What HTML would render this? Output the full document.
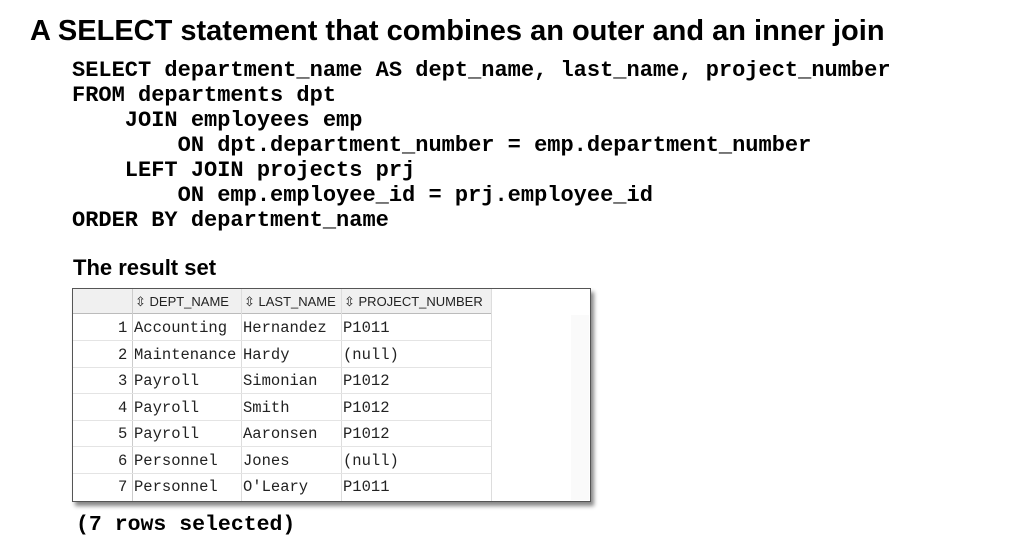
<!DOCTYPE html>
<html><head><style>
body{margin:0;width:1033px;height:544px;background:#fff;position:relative;overflow:hidden;font-family:"Liberation Sans",sans-serif}
.t{position:absolute;left:30px;top:15px;font-size:29px;font-weight:bold;color:#000;white-space:nowrap}
.code{position:absolute;left:72px;top:58px;font-family:"Liberation Mono",monospace;font-weight:bold;font-size:22px;line-height:25px;white-space:pre;color:#000}
.rs{position:absolute;left:73px;top:255px;font-size:22px;font-weight:bold}
.foot{position:absolute;left:76px;top:513px;font-family:"Liberation Mono",monospace;font-weight:bold;font-size:21.5px;white-space:pre}
.tbl{position:absolute;left:72px;top:288px;width:517px;height:212px;border:1px solid #555;box-shadow:3px 4px 4px #888;background:#fff}
.cell{position:absolute;white-space:nowrap}
.h{font-size:13px;color:#222;top:5px}
.r{font-family:"Liberation Mono",monospace;font-size:15.5px;color:#222}
.vl{position:absolute;width:1px;background:#ddd}
.hl{position:absolute;height:1px;background:#e4e4e4;left:0;width:418px}
</style></head><body>
<div class="t">A SELECT statement that combines an outer and an inner join</div>
<div class="code">SELECT department_name AS dept_name, last_name, project_number
FROM departments dpt
    JOIN employees emp
        ON dpt.department_number = emp.department_number
    LEFT JOIN projects prj
        ON emp.employee_id = prj.employee_id
ORDER BY department_name</div>
<div class="rs">The result set</div>
<div class="tbl">
<div style="position:absolute;left:0;top:0;width:418px;height:24px;background:#f0f0f0;border-bottom:1px solid #bbb"></div>
<div class="vl" style="left:59px;top:0;height:212px;background:#ccc"></div>
<div class="vl" style="left:168px;top:0;height:212px"></div>
<div class="vl" style="left:268px;top:0;height:212px"></div>
<div class="vl" style="left:418px;top:0;height:212px"></div>
<div style="position:absolute;left:498px;top:26px;width:18px;height:185px;background:#fafafa"></div>
<div class="cell h" style="left:62px">⇳ DEPT_NAME</div>
<div class="cell h" style="left:171px">⇳ LAST_NAME</div>
<div class="cell h" style="left:271px">⇳ PROJECT_NUMBER</div>
<div class="hl" style="top:51px"></div><div class="hl" style="top:78px"></div><div class="hl" style="top:104px"></div><div class="hl" style="top:131px"></div><div class="hl" style="top:157px"></div><div class="hl" style="top:184px"></div>
<div class="cell r" style="top:30px;left:45px">1</div><div class="cell r" style="top:30px;left:61px">Accounting</div><div class="cell r" style="top:30px;left:170px">Hernandez</div><div class="cell r" style="top:30px;left:270px">P1011</div>
<div class="cell r" style="top:57px;left:45px">2</div><div class="cell r" style="top:57px;left:61px">Maintenance</div><div class="cell r" style="top:57px;left:170px">Hardy</div><div class="cell r" style="top:57px;left:270px">(null)</div>
<div class="cell r" style="top:83px;left:45px">3</div><div class="cell r" style="top:83px;left:61px">Payroll</div><div class="cell r" style="top:83px;left:170px">Simonian</div><div class="cell r" style="top:83px;left:270px">P1012</div>
<div class="cell r" style="top:110px;left:45px">4</div><div class="cell r" style="top:110px;left:61px">Payroll</div><div class="cell r" style="top:110px;left:170px">Smith</div><div class="cell r" style="top:110px;left:270px">P1012</div>
<div class="cell r" style="top:136px;left:45px">5</div><div class="cell r" style="top:136px;left:61px">Payroll</div><div class="cell r" style="top:136px;left:170px">Aaronsen</div><div class="cell r" style="top:136px;left:270px">P1012</div>
<div class="cell r" style="top:163px;left:45px">6</div><div class="cell r" style="top:163px;left:61px">Personnel</div><div class="cell r" style="top:163px;left:170px">Jones</div><div class="cell r" style="top:163px;left:270px">(null)</div>
<div class="cell r" style="top:189px;left:45px">7</div><div class="cell r" style="top:189px;left:61px">Personnel</div><div class="cell r" style="top:189px;left:170px">O'Leary</div><div class="cell r" style="top:189px;left:270px">P1011</div>
</div>
<div class="foot">(7 rows selected)</div>
</body></html>
